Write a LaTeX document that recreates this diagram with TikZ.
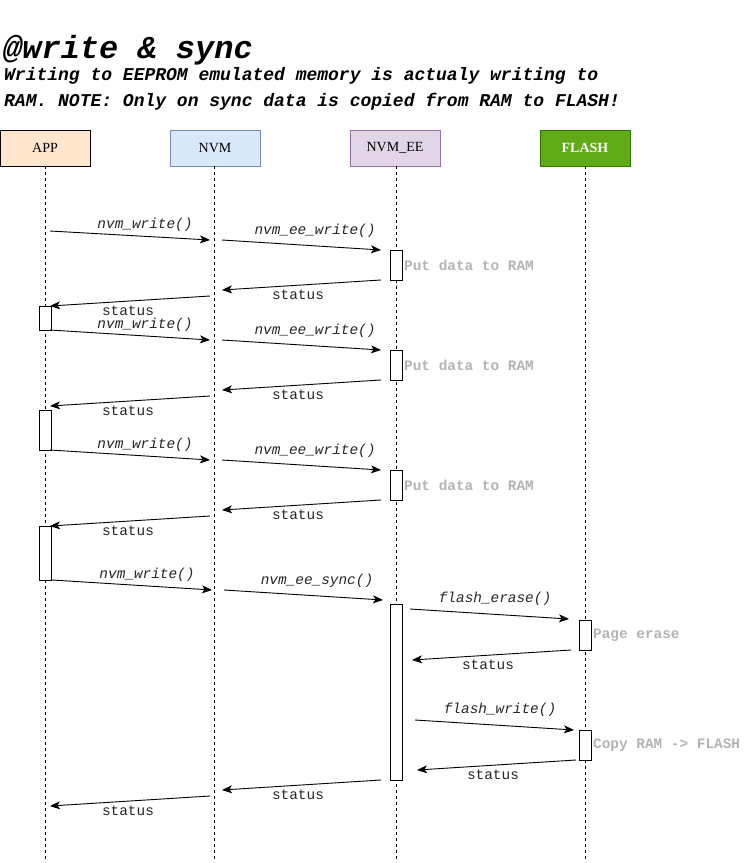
\documentclass[tikz,border=0pt]{standalone}
\usepackage{fontspec}
\setmainfont{Liberation Serif}
\newfontfamily\mono{Liberation Mono}
\usetikzlibrary{arrows.meta}
\definecolor{appfill}{HTML}{FFE6CC}
\definecolor{nvmfill}{HTML}{DAE8FC}
\definecolor{nvmline}{HTML}{6C8EBF}
\definecolor{eefill}{HTML}{E1D5E7}
\definecolor{eeline}{HTML}{9673A6}
\definecolor{flfill}{HTML}{60A917}
\definecolor{flline}{HTML}{2D7600}
\definecolor{notegray}{HTML}{B3B3B3}
\newcommand\mymsg[6]{\coordinate (#1a) at (#2); \coordinate (#1b) at (#3); \draw[msg] (#1a) -- (#1b); \node[#6] (#1l) at (#4) {#5};}
\begin{document}
\begin{tikzpicture}[x=1pt,y=-1pt,
  part/.style={draw, minimum width=90pt, minimum height=36pt, inner sep=0pt, font=\fontsize{14}{16}\selectfont},
  life/.style={line width=0.8pt, dash pattern=on 3pt off 3pt},
  act/.style={draw, fill=white, line width=0.8pt, minimum width=12pt, inner sep=0pt, anchor=north},
  msg/.style={-{Stealth[length=10pt,width=8pt,inset=2.5pt]}, line width=0.9pt},
  fn/.style={font=\mono\itshape\fontsize{14.4}{16}\selectfont, text=black!85, inner sep=0pt},
  st/.style={font=\mono\fontsize{14.4}{16}\selectfont, text=black!85, inner sep=0pt},
  note/.style={font=\mono\bfseries\fontsize{14.4}{16}\selectfont, text=notegray, anchor=west, inner sep=0pt},
  head/.style={anchor=base west, inner sep=0pt, font=\mono\bfseries\itshape\fontsize{18}{20}\selectfont}
]
\useasboundingbox (0,0) rectangle (752,863);

\node[anchor=base west, inner sep=0pt, font=\mono\bfseries\itshape\fontsize{32}{33}\selectfont] (title) at (3,58) {@write \& sync};
\node[head] (sub1) at (4,80) {Writing to EEPROM emulated memory is actualy writing to};
\node[head] (sub2) at (4,106) {RAM. NOTE: Only on sync data is copied from RAM to FLASH!};

\node[part, fill=appfill] (app) at (45,148) {APP};
\node[part, fill=nvmfill, draw=nvmline] (nvm) at (215,148) {NVM};
\node[part, fill=eefill, draw=eeline] (ee) at (395,148) {NVM\_EE};
\node[part, fill=flfill, draw=flline, text=white, font=\bfseries\fontsize{14}{16}\selectfont] (fl) at (585,148) {FLASH};

\coordinate (append) at (45,860);
\coordinate (nvmend) at (214,860);
\coordinate (eeend) at (396,860);
\coordinate (flend) at (585,860);
\draw[life] (45,166) -- (append);
\draw[life] (214,166) -- (nvmend);
\draw[life] (396,166) -- (eeend);
\draw[life] (585,166) -- (flend);

% activations
\node[act, minimum height=30pt] (ea1) at (396,250) {};
\node[act, minimum height=24pt] (aa1) at (45,306) {};
\node[act, minimum height=30pt] (ea2) at (396,350) {};
\node[act, minimum height=40pt] (aa2) at (45,410) {};
\node[act, minimum height=30pt] (ea3) at (396,470) {};
\node[act, minimum height=54pt] (aa3) at (45,526) {};
\node[act, minimum height=176pt] (ea4) at (396,604) {};
\node[act, minimum height=30pt] (fa1) at (585,620) {};
\node[act, minimum height=30pt] (fa2) at (585,730) {};

\node[note] (n1) at (404,265) {Put data to RAM};
\node[note] (n2) at (404,365) {Put data to RAM};
\node[note] (n3) at (404,485) {Put data to RAM};
\node[note] (n4) at (593,635) {Page erase};
\node[note] (n5) at (593,745) {Copy RAM -> FLASH};

% messages
\mymsg{m1}{50,231}{210,240}{145,225}{nvm\_write()}{fn}
\mymsg{m2}{222,240}{381,250}{315,231}{nvm\_ee\_write()}{fn}
\mymsg{m3}{381,280}{222,290}{298,295}{status}{st}
\mymsg{m4}{210,296}{50,306}{128,311}{status}{st}
\mymsg{m5}{50,330}{210,340}{145,325}{nvm\_write()}{fn}
\mymsg{m6}{222,340}{381,350}{315,331}{nvm\_ee\_write()}{fn}
\mymsg{m7}{381,380}{222,390}{298,395}{status}{st}
\mymsg{m8}{210,396}{50,406}{128,411}{status}{st}
\mymsg{m9}{50,450}{210,460}{145,445}{nvm\_write()}{fn}
\mymsg{m10}{222,460}{381,470}{315,451}{nvm\_ee\_write()}{fn}
\mymsg{m11}{381,500}{222,510}{298,515}{status}{st}
\mymsg{m12}{210,516}{50,526}{128,531}{status}{st}
\mymsg{m13}{52,580}{212,590}{147,575}{nvm\_write()}{fn}
\mymsg{m14}{224,590}{383,600}{317,581}{nvm\_ee\_sync()}{fn}
\mymsg{m15}{410,609}{569,619}{495,599}{flash\_erase()}{fn}
\mymsg{m16}{571,650}{412,660}{488,665}{status}{st}
\mymsg{m17}{415,720}{574,730}{500,710}{flash\_write()}{fn}
\mymsg{m18}{576,760}{417,770}{493,775}{status}{st}
\mymsg{m19}{381,780}{222,790}{298,795}{status}{st}
\mymsg{m20}{210,796}{50,806}{128,811}{status}{st}
\end{tikzpicture}
\end{document}
